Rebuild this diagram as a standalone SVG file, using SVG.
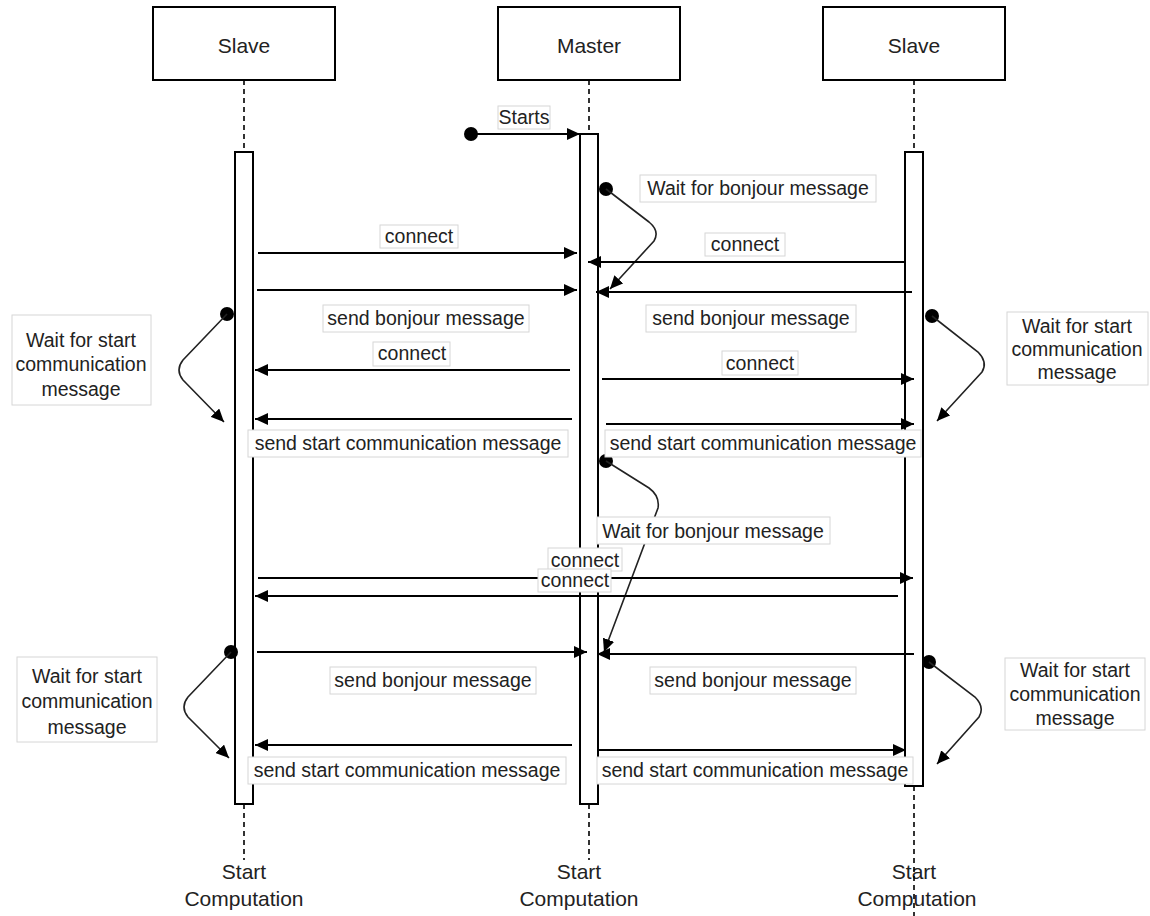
<svg xmlns="http://www.w3.org/2000/svg" width="1150" height="916" viewBox="0 0 1150 916">
<style>
.box{fill:#fff;stroke:#000;stroke-width:2}
.act{fill:#fff;stroke:#000;stroke-width:2}
.life{fill:none;stroke:#000;stroke-width:1.6;stroke-dasharray:5 4}
.msg{fill:none;stroke:#000;stroke-width:2;marker-end:url(#arr)}
.loop{fill:none;stroke:#222;stroke-width:1.6;marker-end:url(#arr)}
.lbl{fill:#fff;stroke:#d6d6d6;stroke-width:1}
text{font-family:"Liberation Sans",Arial,sans-serif;fill:#222;text-anchor:middle;dominant-baseline:central}
.t{font-size:19.5px}
.n{font-size:21px}
</style>
<defs>
<marker id="arr" markerUnits="userSpaceOnUse" markerWidth="14" markerHeight="12" refX="13" refY="6" orient="auto">
<path d="M0,0 L13,6 L0,12 z" fill="#000"/>
</marker>
</defs>

<g id="slave-left">
<rect class="box" x="153" y="7" width="182" height="73"/>
<text class="n" x="244" y="45">Slave</text>
<line class="life" x1="244" y1="80" x2="244" y2="152"/>
<line class="life" x1="244" y1="804" x2="244" y2="860"/>
<rect class="act" x="235" y="152" width="18" height="652"/>
<text class="n" x="244" y="871">Start</text>
<text class="n" x="244" y="898">Computation</text>
</g>

<g id="master">
<rect class="box" x="498" y="7" width="182" height="73"/>
<text class="n" x="589" y="45">Master</text>
<line class="life" x1="589" y1="80" x2="589" y2="134"/>
<line class="life" x1="589" y1="804" x2="589" y2="860"/>
<rect class="act" x="580" y="134" width="18" height="670"/>
<text class="n" x="579" y="871">Start</text>
<text class="n" x="579" y="898">Computation</text>
</g>

<g id="slave-right">
<rect class="box" x="823" y="7" width="182" height="73"/>
<text class="n" x="914" y="45">Slave</text>
<line class="life" x1="914" y1="80" x2="914" y2="152"/>
<rect class="act" x="905" y="152" width="18" height="634"/>
<text class="n" x="914" y="871">Start</text>
<text class="n" x="917" y="898">Computation</text>
<line class="life" x1="914" y1="786" x2="914" y2="916"/>
</g>

<g id="connectors">
<circle cx="471" cy="134" r="7" fill="#000"/>
<line class="msg" x1="471" y1="134" x2="580" y2="134"/>

<circle cx="606" cy="189" r="7" fill="#000"/>
<path class="loop" d="M606,189 L649,222 Q660,231 654,241 L610,289"/>

<line class="msg" x1="258" y1="253" x2="577" y2="253"/>
<line class="msg" x1="905" y1="262" x2="588" y2="262"/>
<line class="msg" x1="257" y1="290" x2="577" y2="290"/>
<line class="msg" x1="912" y1="292" x2="596" y2="292"/>

<circle cx="227" cy="314" r="7" fill="#000"/>
<path class="loop" d="M227,314 L183,360 Q175,370 183,380 L224,422"/>
<circle cx="932" cy="316" r="7" fill="#000"/>
<path class="loop" d="M932,316 L978,352 Q988,362 982,372 L937,421"/>

<line class="msg" x1="570" y1="370" x2="255" y2="370"/>
<line class="msg" x1="602" y1="379" x2="914" y2="379"/>
<line class="msg" x1="572" y1="419" x2="255" y2="419"/>
<line class="msg" x1="606" y1="424" x2="914" y2="424"/>

<circle cx="606" cy="461" r="7" fill="#000"/>
<path class="loop" d="M606,461 L649,488 Q660,496 658,508 L604,652"/>

<line class="msg" x1="258" y1="578" x2="913" y2="578"/>
<line class="msg" x1="898" y1="596" x2="255" y2="596"/>
<line class="msg" x1="257" y1="652" x2="587" y2="652"/>
<line class="msg" x1="914" y1="654" x2="597" y2="654"/>

<circle cx="231" cy="652" r="7" fill="#000"/>
<path class="loop" d="M231,652 L188,697 Q180,707 188,717 L229,758"/>
<circle cx="929" cy="662" r="7" fill="#000"/>
<path class="loop" d="M929,662 L975,697 Q985,707 979,717 L937,764"/>

<line class="msg" x1="572" y1="745" x2="255" y2="745"/>
<line class="msg" x1="598" y1="750" x2="906" y2="750"/>
</g>

<g id="labels">
<rect class="lbl" x="498" y="106" width="52" height="23"/>
<text class="t" x="524" y="117">Starts</text>
<rect class="lbl" x="640" y="175" width="236" height="27"/>
<text class="t" x="758" y="188">Wait for bonjour message</text>
<rect class="lbl" x="380" y="225" width="78" height="23"/>
<text class="t" x="419" y="236">connect</text>
<rect class="lbl" x="705" y="233" width="80" height="23"/>
<text class="t" x="745" y="244">connect</text>
<rect class="lbl" x="323" y="305" width="206" height="27"/>
<text class="t" x="426" y="318">send bonjour message</text>
<rect class="lbl" x="646" y="305" width="210" height="27"/>
<text class="t" x="751" y="318">send bonjour message</text>
<rect class="lbl" x="373" y="342" width="77" height="24"/>
<text class="t" x="412" y="353">connect</text>
<rect class="lbl" x="722" y="351" width="76" height="24"/>
<text class="t" x="760" y="363">connect</text>
<rect class="lbl" x="12" y="315" width="139" height="90"/>
<text class="t" x="81" y="340">Wait for start</text>
<text class="t" x="81" y="364">communication</text>
<text class="t" x="81" y="389">message</text>
<rect class="lbl" x="1007" y="312" width="141" height="73"/>
<text class="t" x="1077" y="326">Wait for start</text>
<text class="t" x="1077" y="349">communication</text>
<text class="t" x="1077" y="372">message</text>
<rect class="lbl" x="248" y="430" width="320" height="27"/>
<text class="t" x="408" y="443">send start communication message</text>
<rect class="lbl" x="605" y="430" width="316" height="27"/>
<text class="t" x="763" y="443">send start communication message</text>
<rect class="lbl" x="597" y="517" width="233" height="27"/>
<text class="t" x="713" y="531">Wait for bonjour message</text>
<rect class="lbl" x="548" y="548" width="74" height="23"/>
<text class="t" x="585" y="559.5">connect</text>
<rect class="lbl" x="538" y="569" width="73" height="23"/>
<text class="t" x="575" y="580">connect</text>
<rect class="lbl" x="330" y="667" width="206" height="27"/>
<text class="t" x="433" y="680">send bonjour message</text>
<rect class="lbl" x="650" y="667" width="206" height="27"/>
<text class="t" x="753" y="680">send bonjour message</text>
<rect class="lbl" x="17" y="657" width="140" height="85"/>
<text class="t" x="87" y="676">Wait for start</text>
<text class="t" x="87" y="701">communication</text>
<text class="t" x="87" y="727">message</text>
<rect class="lbl" x="1005" y="658" width="140" height="72"/>
<text class="t" x="1075" y="670">Wait for start</text>
<text class="t" x="1075" y="694">communication</text>
<text class="t" x="1075" y="718">message</text>
<rect class="lbl" x="248" y="757" width="318" height="27"/>
<text class="t" x="407" y="770">send start communication message</text>
<rect class="lbl" x="597" y="757" width="316" height="27"/>
<text class="t" x="755" y="770">send start communication message</text>
</g>
</svg>
